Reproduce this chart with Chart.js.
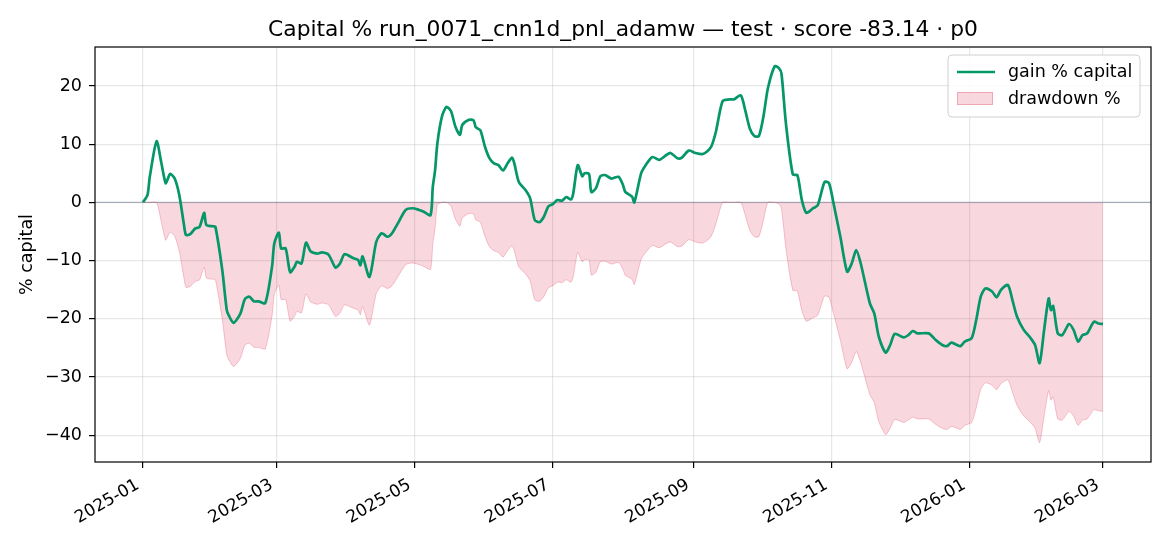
<!DOCTYPE html>
<html>
<head>
<meta charset="utf-8">
<script src="https://cdn.jsdelivr.net/npm/chart.js@4.4.1/dist/chart.umd.min.js"></script>
<style>
  body { margin: 0; background: #fff; }
  canvas { display: block; }
</style>
</head>
<body>
<canvas id="capitalChart" width="1170" height="546"></canvas>
<script>
// Data (days counted from 2025-01-01)

const dayIndex = [
  0, 2, 3, 6, 8, 10, 11, 12, 14, 16,
  18, 19, 21, 23, 25, 27, 28, 31, 32, 35,
  37, 38, 40, 43, 45, 47, 49, 51, 54, 57,
  58, 60, 61, 63, 65, 67, 68, 70, 72, 74,
  77, 79, 82, 85, 87, 89, 93, 95, 96, 97,
  100, 103, 105, 106, 108, 110, 113, 116, 119, 122,
  124, 127, 128, 129, 130, 132, 134, 136, 138, 140,
  141, 144, 146, 147, 149, 151, 153, 155, 157, 159,
  161, 163, 164, 166, 169, 171, 173, 175, 177, 179,
  181, 183, 185, 187, 189, 190, 192, 194, 195, 197,
  198, 200, 202, 204, 207, 210, 212, 213, 216, 217,
  220, 222, 225, 228, 231, 233, 236, 238, 241, 244,
  247, 249, 251, 253, 256, 259, 261, 264, 266, 268,
  270, 272, 274, 276, 279, 281, 282, 284, 287, 289,
  291, 293, 296, 298, 301, 303, 305, 308, 311, 313,
  315, 317, 321, 323, 325, 328, 330, 332, 336, 338,
  340, 342, 347, 350, 353, 355, 357, 359, 361, 363,
  366, 368, 370, 372, 375, 377, 379, 382, 384, 386,
  389, 392, 394, 396, 398, 400, 401, 402, 404, 406,
  409, 411, 413, 415, 417, 420, 422, 424
];

const gainPct = [
  0, 1.3, 4.4, 10.5, 7.0, 3.3, 4.1, 4.9, 4.1, 1.3,
  -3.6, -5.6, -5.4, -4.5, -4.2, -1.8, -3.9, -4.1, -4.2, -11.6,
  -18.5, -19.5, -20.7, -19.1, -16.6, -16.2, -17.0, -17.0, -17.3, -11.0,
  -7.0, -5.2, -7.9, -7.9, -12.0, -11.0, -10.2, -10.5, -6.9, -8.4,
  -8.8, -8.6, -9.0, -11.2, -10.5, -8.9, -9.6, -9.9, -10.8, -9.3,
  -12.8, -6.8, -5.4, -5.4, -5.9, -5.3, -3.3, -1.3, -1.0, -1.3,
  -1.6, -2.2, 2.7, 5.5, 10.1, 14.7, 16.4, 15.7, 13.0, 11.6,
  13.3, 14.2, 14.1, 12.9, 12.4, 9.6, 7.6, 6.7, 6.4, 5.5,
  6.7, 7.7, 6.7, 3.5, 2.1, 0.7, -3.0, -3.4, -2.5, -0.7,
  -0.3, 0.4, 0.3, 0.9, 0.5, 1.5, 6.4, 4.5, 5.0, 4.9,
  1.8, 2.4, 4.5, 4.7, 4.1, 4.4, 3.0, 1.8, 1.0, 0.0,
  5.0, 6.4, 7.8, 7.3, 8.1, 8.5, 7.6, 7.7, 8.9, 8.5,
  8.3, 8.7, 9.6, 12.1, 17.4, 17.7, 17.7, 18.4, 15.8, 12.7,
  11.4, 11.4, 14.7, 19.6, 23.4, 23.0, 22.1, 13.4, 4.8, 4.7,
  0.4, -1.8, -1.0, -0.5, 3.5, 3.3, -0.2, -5.9, -11.9, -10.5,
  -8.2, -10.5, -17.3, -19.1, -23.1, -25.8, -24.5, -22.6, -23.2, -22.8,
  -22.1, -22.5, -22.5, -23.6, -24.5, -24.7, -24.1, -24.4, -24.7, -23.9,
  -23.3, -20.2, -16.2, -14.8, -15.3, -16.3, -15.0, -14.2, -16.8, -19.6,
  -21.9, -23.3, -24.5, -27.6, -21.9, -16.5, -18.5, -17.8, -22.5, -22.8,
  -20.9, -21.9, -23.9, -22.8, -22.5, -20.5, -20.8, -20.9
];

const drawdownPct = [
  0, 0, 0, 0, -3.2, -6.5, -5.8, -5.1, -5.8, -8.3,
  -12.8, -14.6, -14.4, -13.6, -13.3, -11.1, -13.0, -13.2, -13.3, -20.0,
  -26.2, -27.1, -28.2, -26.8, -24.5, -24.2, -24.9, -24.9, -25.2, -19.5,
  -15.8, -14.2, -16.7, -16.7, -20.4, -19.5, -18.7, -19.0, -15.7, -17.1,
  -17.5, -17.3, -17.6, -19.6, -19.0, -17.6, -18.2, -18.5, -19.3, -17.9,
  -21.1, -15.7, -14.4, -14.4, -14.8, -14.3, -12.5, -10.7, -10.4, -10.7,
  -11.0, -11.5, -7.1, -4.5, -0.4, 0, 0, -0.6, -2.9, -4.1,
  -2.7, -1.9, -2.0, -3.0, -3.4, -5.8, -7.6, -8.3, -8.6, -9.4,
  -8.3, -7.5, -8.3, -11.1, -12.3, -13.5, -16.7, -17.0, -16.2, -14.7,
  -14.3, -13.7, -13.8, -13.3, -13.7, -12.8, -8.6, -10.2, -9.8, -9.9,
  -12.5, -12.0, -10.2, -10.1, -10.6, -10.3, -11.5, -12.5, -13.2, -14.1,
  -9.8, -8.6, -7.4, -7.8, -7.1, -6.8, -7.6, -7.5, -6.4, -6.8,
  -7.0, -6.6, -5.8, -3.7, 0, 0, 0, 0, -2.2, -4.8,
  -5.9, -5.9, -3.1, 0, 0, -0.3, -1.1, -8.1, -15.1, -15.2,
  -18.6, -20.4, -19.8, -19.4, -16.1, -16.3, -19.1, -23.7, -28.6, -27.5,
  -25.6, -27.5, -33.0, -34.4, -37.7, -39.9, -38.8, -37.3, -37.8, -37.4,
  -36.9, -37.2, -37.2, -38.1, -38.8, -39.0, -38.5, -38.7, -39.0, -38.3,
  -37.8, -35.3, -32.1, -31.0, -31.4, -32.2, -31.1, -30.5, -32.6, -34.8,
  -36.7, -37.8, -38.8, -41.3, -36.7, -32.3, -34.0, -33.4, -37.2, -37.4,
  -35.9, -36.7, -38.3, -37.4, -37.2, -35.6, -35.8, -35.9
];

const xTickDays = [0, 59, 120, 181, 243, 304, 365, 424];
const xTickLabels = ["2025-01", "2025-03", "2025-05", "2025-07", "2025-09", "2025-11", "2026-01", "2026-03"];
const yTicks = [-40, -30, -20, -10, 0, 10, 20];

const chartTitle = "Capital % run_0071_cnn1d_pnl_adamw \u2014 test \u00b7 score -83.14 \u00b7 p0";

const FONT = "'DejaVu Sans', 'Liberation Sans', sans-serif";
const GREEN = "#059669";
const PINK_FILL = "rgba(220, 20, 60, 0.17)";
const PINK_EDGE = "rgba(220, 20, 60, 0.22)";

// Title, frame, zero line and legend (matplotlib look)

const decorations = {
  id: "decorations",
  beforeDatasetsDraw(chart) {
    const { ctx, chartArea: a, scales } = chart;
    const y0 = scales.y.getPixelForValue(0);
    ctx.save();
    ctx.strokeStyle = "rgba(100, 116, 139, 0.5)";
    ctx.lineWidth = 1.3;
    ctx.beginPath();
    ctx.moveTo(a.left, y0);
    ctx.lineTo(a.right, y0);
    ctx.stroke();
    ctx.restore();
  },
  afterDraw(chart) {
    const { ctx, chartArea: a } = chart;
    ctx.save();

    // title, centred over the plot area
    ctx.font = "21.8px " + FONT;
    ctx.fillStyle = "#000";
    ctx.textAlign = "center";
    ctx.textBaseline = "alphabetic";
    ctx.fillText(chartTitle, (a.left + a.right) / 2, 36);

    // frame
    ctx.strokeStyle = "#000";
    ctx.lineWidth = 1.2;
    ctx.strokeRect(a.left, a.top, a.right - a.left, a.bottom - a.top);

    // legend box
    const bx = a.right - 203, by = a.top + 8, bw = 192, bh = 62;
    ctx.beginPath();
    ctx.roundRect(bx, by, bw, bh, 4);
    ctx.fillStyle = "rgba(255,255,255,0.85)";
    ctx.fill();
    ctx.strokeStyle = "#d0d0d0";
    ctx.lineWidth = 1;
    ctx.stroke();

    const ds = chart.data.datasets;
    ctx.font = "17.5px " + FONT;
    ctx.fillStyle = "#000";
    ctx.textBaseline = "middle";
    ctx.textAlign = "left";

    // gain line sample
    ctx.strokeStyle = GREEN;
    ctx.lineWidth = 2.6;
    ctx.beginPath();
    ctx.moveTo(bx + 9, by + 17);
    ctx.lineTo(bx + 47, by + 17);
    ctx.stroke();
    ctx.fillText(ds[0].label, bx + 60, by + 17);

    // drawdown patch sample
    ctx.fillStyle = PINK_FILL;
    ctx.fillRect(bx + 9, by + 37, 36, 13);
    ctx.strokeStyle = "rgba(220, 20, 60, 0.25)";
    ctx.lineWidth = 1;
    ctx.strokeRect(bx + 9.5, by + 37.5, 35, 12);
    ctx.fillStyle = "#000";
    ctx.fillText(ds[1].label, bx + 60, by + 44);

    ctx.restore();
  }
};

const ctx = document.getElementById("capitalChart");

new Chart(ctx, {

  type: "line",

  data: {
    datasets: [
      {
        label: "gain % capital",
        data: dayIndex.map((d, i) => ({ x: d, y: gainPct[i] })),
        borderColor: GREEN,
        borderWidth: 2.7,
        pointRadius: 0,
        tension: 0.25,
        fill: false,
        order: 0
      },
      {
        label: "drawdown %",
        data: dayIndex.map((d, i) => ({ x: d, y: drawdownPct[i] })),
        borderColor: PINK_EDGE,
        backgroundColor: PINK_FILL,
        borderWidth: 1,
        pointRadius: 0,
        tension: 0.2,
        fill: { value: 0 },
        order: 1
      }
    ]
  },

  plugins: [decorations],

  options: {
    responsive: false,
    animation: false,
    devicePixelRatio: 1,
    layout: { padding: { left: 0, right: 19, top: 47, bottom: 0 } },

    plugins: {
      legend: { display: false },
      tooltip: { enabled: false },
      title: { display: false }
    },

    scales: {

      x: {
        type: "linear",
        min: -21.2,
        max: 445.2,
        afterBuildTicks: scale => {
          scale.ticks = xTickDays.map(v => ({ value: v }));
        },
        afterFit: scale => { scale.height = 84; },
        ticks: {
          autoSkip: false,
          minRotation: 30,
          maxRotation: 30,
          padding: 7,
          labelOffset: -5,
          color: "#000",
          font: { family: FONT, size: 17 },
          callback: value => xTickLabels[xTickDays.indexOf(value)]
        },
        grid: {
          color: "rgba(176,176,176,0.3)",
          lineWidth: 1.2,
          tickColor: "#000",
          tickLength: 6,
          tickWidth: 1.2
        },
        border: { display: false }
      },

      y: {
        min: -44.6,
        max: 26.7,
        afterBuildTicks: scale => {
          scale.ticks = yTicks.map(v => ({ value: v }));
        },
        afterFit: scale => { scale.width = 95; },
        ticks: {
          padding: 7,
          color: "#000",
          font: { family: FONT, size: 17.5 },
          callback: value => String(value).replace("-", "\u2212")
        },
        grid: {
          color: "rgba(176,176,176,0.3)",
          lineWidth: 1.2,
          tickColor: "#000",
          tickLength: 6,
          tickWidth: 1.2
        },
        border: { display: false },
        title: {
          display: true,
          text: "% capital",
          color: "#000",
          font: { family: FONT, size: 17.5 },
          padding: { top: 17, bottom: 0 }
        }
      }

    }

  }

});
</script>
</body>
</html>
